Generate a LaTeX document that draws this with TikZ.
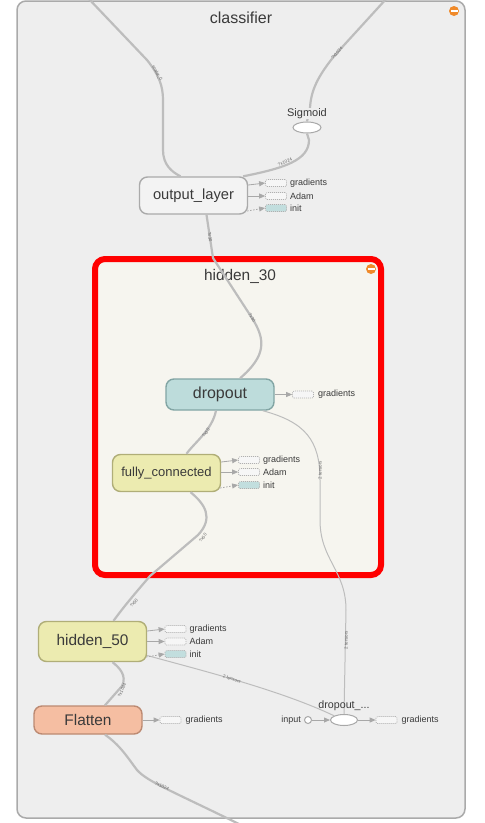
\documentclass[tikz,border=0pt]{standalone}
\usepackage{xcolor}
\usepackage{fontspec}
\setmainfont{Liberation Sans}
\usepackage{tikz}
\usetikzlibrary{positioning,arrows.meta,shapes.geometric}

\definecolor{clsbg}{HTML}{EEEEEE}
\definecolor{clsline}{HTML}{AAAAAA}
\definecolor{subbg}{HTML}{F6F5EF}
\definecolor{edgegray}{HTML}{BDBDBD}
\definecolor{auxgray}{HTML}{A8A8A8}
\definecolor{auxdash}{HTML}{B0B0B0}
\definecolor{inittl}{HTML}{C2DEDE}
\definecolor{dropfill}{HTML}{BDDCDB}
\definecolor{dropline}{HTML}{82A5A4}
\definecolor{layfill}{HTML}{ECEBB0}
\definecolor{layline}{HTML}{B0AE78}
\definecolor{flatfill}{HTML}{F5BEA2}
\definecolor{flatline}{HTML}{BC8A72}
\definecolor{txtgray}{HTML}{3A3A3A}
\definecolor{iconorange}{HTML}{F08A2A}

\begin{document}
\begin{tikzpicture}[x=1pt, y=-1pt,
        op/.style={draw, rounded corners=8pt, line width=1.4pt, minimum width=108pt, text=txtgray, inner sep=0pt},
        auxbox/.style={draw=auxdash, line width=0.7pt, dash pattern=on 1pt off 1pt, rounded corners=1.5pt, minimum width=21pt, minimum height=7pt, inner sep=0pt, fill=clsbg!50!white},
        auxtext/.style={font=\fontsize{9}{10}\selectfont, text=txtgray, inner sep=0pt},
        auxlink/.style={auxgray, line width=0.8pt, -{Triangle[length=6pt,width=5pt]}},
        ctrllink/.style={auxlink, dash pattern=on 1.5pt off 1.5pt},
        flow/.style={edgegray, line width=2.2pt},
        thinflow/.style={edgegray, line width=1pt},
        elabel/.style={font=\fontsize{4.5}{5}\selectfont, text=gray!80!black, inner sep=0pt},
        title/.style={font=\fontsize{16}{18}\selectfont, text=txtgray}
    ]
        \useasboundingbox (0,0) rectangle (485,823);

        \draw[clsline, line width=1.5pt, fill=clsbg, rounded corners=9pt] (17,1) rectangle (465,818);
        \node[title] (clsname) at (241,18) {classifier};
        \fill[iconorange] (454,11) circle (5pt);
        \fill[white] (450.5,10) rectangle (457.5,12);

        \draw[red, line width=6pt, fill=subbg, rounded corners=10pt] (95,259) rectangle (381,575);
        \node[title, font=\fontsize{15.4}{17}\selectfont] (subname) at (240,276) {hidden\_30};
        \fill[iconorange] (371,269) circle (5pt);
        \fill[white] (367.5,268) rectangle (374.5,270);

        \node[op, fill=clsbg!70!white, draw=clsline, minimum height=37pt, font=\fontsize{14.7}{16}\selectfont] (olayer) at (193.5,195.5) {output\_layer};
        \node[draw=auxgray, line width=1pt, fill=white, ellipse, minimum width=28pt, minimum height=11pt, inner sep=0pt] (sig) at (307,127.5) {};
        \node[op, fill=dropfill, draw=dropline, minimum height=31pt, font=\fontsize{16}{18}\selectfont] (dropout) at (220,394.5) {dropout};
        \node[op, fill=layfill, draw=layline, minimum height=37pt, font=\fontsize{13}{15}\selectfont] (fc) at (166.5,473) {fully\_connected};
        \node[op, fill=layfill, draw=layline, minimum height=40pt, font=\fontsize{15.4}{17}\selectfont] (hidden50) at (92.5,641.5) {hidden\_50};
        \node[op, fill=flatfill, draw=flatline, minimum height=28pt, font=\fontsize{15.4}{17}\selectfont] (flatten) at (88,720) {Flatten};
        \node[draw=auxgray, line width=1pt, fill=white, ellipse, minimum width=27pt, minimum height=11pt, inner sep=0pt] (dpe) at (344,720) {};
        \node[draw=auxgray, line width=1pt, fill=white, circle, minimum size=7pt, inner sep=0pt] (inp) at (308,720) {};

        \coordinate (topl) at (88,-2);
        \coordinate (topr) at (387,-2);
        \coordinate (botm) at (241,825);

        \draw[flow] (topl) -- (147,60) .. controls (159,75) and (163,86) .. (163,100) -- (163,150)
            .. controls (163,165) and (172,172) .. ([xshift=-13pt]olayer.north);
        \draw[flow] (topr) -- (335,55) .. controls (318,76) and (311,90) .. (310,108) -- (sig.north);
        \draw[flow] (sig.south) -- (309,140) .. controls (309,160) and (285,168) .. ([xshift=-5pt]olayer.north east);
        \draw[flow] ([xshift=13pt]olayer.south) -- (213,258) -- (252,318)
            .. controls (266,340) and (266,356) .. ([xshift=20pt]dropout.north);
        \draw[flow] ([xshift=-4pt]dropout.south) .. controls (212,430) and (195,442) .. ([xshift=20pt]fc.north);
        \draw[flow] ([xshift=24pt]fc.south) .. controls (205,504) and (214,518) .. (198,535) -- (150,576)
            .. controls (138,590) and (125,605) .. ([xshift=21pt]hidden50.north);
        \draw[flow] ([xshift=20pt]hidden50.south) .. controls (120,668) and (127,676) .. (122,686) -- ([xshift=17pt]flatten.north);
        \draw[flow] ([xshift=17pt]flatten.south) .. controls (120,745) and (128,758) .. (137,770)
            .. controls (148,782) and (170,790) .. (botm);
        \draw[thinflow] ([xshift=-12pt]dropout.south east) .. controls (305,422) and (320,440) .. (320,480) -- (320,520)
            .. controls (320,560) and (346,570) .. (346,610) -- (dpe.north);
        \draw[thinflow] ([yshift=-14pt]hidden50.east) .. controls (200,670) and (280,690) .. (dpe.north west);

        \node[elabel, rotate=-62] (l1) at (157,73) {scalar\_0};
        \node[elabel, rotate=50] (l2) at (337,53) {?x1024};
        \node[elabel, rotate=22] (l3) at (285,162) {?x1024};
        \node[elabel, rotate=-82] (l4) at (210,237) {?x30};
        \node[elabel, rotate=-57] (l5) at (252,318) {?x30};
        \node[elabel, rotate=55] (l6) at (206,433) {?x30};
        \node[elabel, rotate=55] (l7) at (203,538) {?x50};
        \node[elabel, rotate=50] (l8) at (134,603) {?x50};
        \node[elabel, rotate=65] (l9) at (122,690) {?x1024};
        \node[elabel, rotate=-25] (l10) at (162,786) {?x1024};
        \node[elabel, rotate=90] (l11) at (320,470) {2 tensors};
        \node[elabel, rotate=90] (l12) at (346,640) {2 tensors};
        \node[elabel, rotate=-18] (l13) at (232,679) {2 tensors};

        \node[font=\fontsize{11}{12}\selectfont, text=txtgray, fill=clsbg, inner sep=0pt] (signame) at (307,113.5) {Sigmoid};
        \node[font=\fontsize{10.7}{12}\selectfont, text=txtgray, inner sep=0pt] (dpename) at (344,706) {dropout\_...};
        \node[auxtext, left=3pt of inp] (inpname) {input};
        \draw[auxlink] (inp.east) -- (dpe.west);

        \node[auxbox] (og) at (276,183) {};
        \node[auxbox] (oa) at (276,196) {};
        \node[auxbox, fill=inittl] (oi) at (276,208) {};
        \node[auxtext, right=3pt of og] (ogt) {gradients};
        \node[auxtext, right=3pt of oa] (oat) {Adam};
        \node[auxtext, right=3pt of oi] (oit) {init};
        \draw[auxlink] ([yshift=-2pt]olayer.east |- og) -- (og.west);
        \draw[auxlink] (olayer.east |- oa) -- (oa.west);
        \draw[ctrllink] ([xshift=-1pt,yshift=-3pt]olayer.east |- oi) -- (oi.west);

        \node[auxbox] (dg) at (303,394.5) {};
        \node[auxtext, right=4pt of dg] (dgt) {gradients};
        \draw[auxlink] (dropout.east) -- (dg.west);

        \node[auxbox] (fg) at (249,460) {};
        \node[auxbox] (fa) at (249,472) {};
        \node[auxbox, fill=inittl] (fi) at (249,485) {};
        \node[auxtext, right=3pt of fg] (fgt) {gradients};
        \node[auxtext, right=3pt of fa] (fat) {Adam};
        \node[auxtext, right=3pt of fi] (fit) {init};
        \draw[auxlink] ([yshift=-2pt]fc.east |- fg) -- (fg.west);
        \draw[auxlink] (fc.east |- fa) -- (fa.west);
        \draw[ctrllink] ([xshift=-1pt,yshift=-3pt]fc.east |- fi) -- (fi.west);

        \node[auxbox] (hg) at (175.5,629) {};
        \node[auxbox] (ha) at (175.5,641.5) {};
        \node[auxbox, fill=inittl] (hi) at (175.5,654) {};
        \node[auxtext, right=3pt of hg] (hgt) {gradients};
        \node[auxtext, right=3pt of ha] (hat) {Adam};
        \node[auxtext, right=3pt of hi] (hit) {init};
        \draw[auxlink] ([yshift=-2pt]hidden50.east |- hg) -- (hg.west);
        \draw[auxlink] (hidden50.east |- ha) -- (ha.west);
        \draw[ctrllink] ([xshift=-1pt,yshift=-3pt]hidden50.east |- hi) -- (hi.west);

        \node[auxbox] (flg) at (170.5,720) {};
        \node[auxtext, right=4pt of flg] (flgt) {gradients};
        \draw[auxlink] (flatten.east) -- (flg.west);

        \node[auxbox] (dpg) at (386.5,720) {};
        \node[auxtext, right=4pt of dpg] (dpgt) {gradients};
        \draw[auxlink] (dpe.east) -- (dpg.west);
    \end{tikzpicture}
\end{document}
